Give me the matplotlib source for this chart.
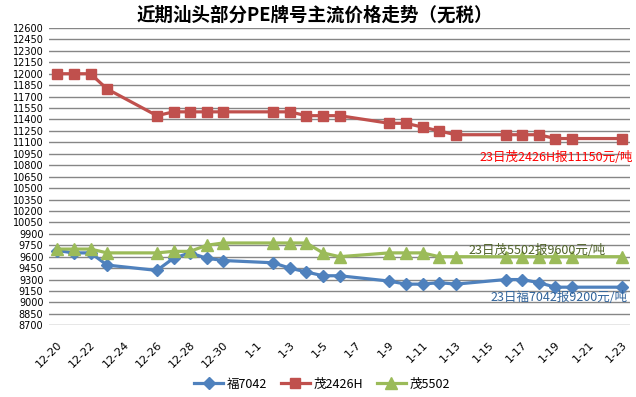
import matplotlib
matplotlib.use("Agg")
import matplotlib.pyplot as plt
import matplotlib.dates as mdates
from matplotlib.ticker import FuncFormatter
import numpy as np
import pandas as pd

# ---------------- data ----------------
dates = ["2012-12-20", "2012-12-21", "2012-12-22", "2012-12-23", "2012-12-26",
         "2012-12-27", "2012-12-28", "2012-12-29", "2012-12-30",
         "2013-01-02", "2013-01-03", "2013-01-04", "2013-01-05", "2013-01-06",
         "2013-01-09", "2013-01-10", "2013-01-11", "2013-01-12", "2013-01-13",
         "2013-01-16", "2013-01-17", "2013-01-18", "2013-01-19", "2013-01-20",
         "2013-01-23"]
fu7042 = [9680, 9650, 9650, 9490, 9420, 9580, 9650, 9580, 9550,
          9520, 9450, 9400, 9350, 9350,
          9280, 9240, 9240, 9260, 9240,
          9300, 9300, 9260, 9200, 9200,
          9200]
mao2426h = [12000, 12000, 12000, 11800, 11450, 11500, 11500, 11500, 11500,
            11500, 11500, 11450, 11450, 11450,
            11350, 11350, 11300, 11250, 11200,
            11200, 11200, 11200, 11150, 11150,
            11150]
mao5502 = [9700, 9700, 9700, 9650, 9650, 9670, 9670, 9750, 9780,
           9780, 9780, 9780, 9650, 9600,
           9650, 9650, 9650, 9600, 9600,
           9600, 9600, 9600, 9600, 9600,
           9600]
series_names = ["福7042", "茂2426H", "茂5502"]
title = "近期汕头部分PE牌号主流价格走势（无税）"
notes = ["23日福7042报9200元/吨", "23日茂2426H报11150元/吨", "23日茂5502报9600元/吨"]
y_min, y_max, y_step = 8700, 12600, 150

# ---------------- figure ----------------
plt.rcParams["font.family"] = ["DejaVu Sans", "Noto Sans CJK SC"]
CJK = ["Noto Sans CJK SC", "DejaVu Sans"]

W, H = 636, 397
fig = plt.figure(figsize=(W / 100, H / 100), dpi=100)
fig.patch.set_facecolor("white")
ax = fig.add_axes([49 / W, 1 - 325.3 / H, 581 / W, (325.3 - 28) / H])

x = pd.to_datetime(dates)
colors = ["#4F81BD", "#C0504D", "#9BBB59"]
markers = ["D", "s", "^"]
msizes = [6.5, 7.5, 8]
series = [fu7042, mao2426h, mao5502]
for vals, c, m, ms, name in zip(series, colors, markers, msizes, series_names):
    ax.plot(x, vals, color=c, lw=2.3, marker=m, markersize=ms,
            markeredgecolor=c, markerfacecolor=c, label=name)

ax.set_ylim(y_min, y_max)
ax.set_yticks(np.arange(y_min, y_max + 1, y_step))
ax.set_xlim(x[0] - pd.Timedelta(hours=12), x[-1] + pd.Timedelta(hours=12))
ax.set_xticks(pd.date_range(x[0], x[-1], freq="2D"))


def fmt(v, p):
    d = mdates.num2date(v)
    return f"{d.month}-{d.day}"


ax.xaxis.set_major_formatter(FuncFormatter(fmt))
ax.tick_params(axis="y", length=0, pad=4, labelsize=7)
ax.tick_params(axis="x", length=0, pad=10, labelsize=8)
plt.setp(ax.get_xticklabels(), rotation=45, ha="right", rotation_mode="anchor")

ax.yaxis.grid(True, color="#868686", lw=1)
ax.set_axisbelow(True)
for s in ax.spines.values():
    s.set_visible(False)

# title
fig.text(315 / W, 1 - 15 / H, title, ha="center", va="center",
         fontsize=13.3, fontweight="bold", family=CJK)

# notes near last points
note_colors = ["#31649B", "#FF0000", "#4F6228"]
offsets = [(6, -10), (11, -19), (-16, 6)]
for vals, txt, c, off in zip(series, notes, note_colors, offsets):
    ax.annotate(txt, xy=(x[-1], vals[-1]), xytext=off, textcoords="offset pixels",
                ha="right", va="center", fontsize=9, color=c, family=CJK,
                annotation_clip=False)

leg = fig.legend(loc="center", bbox_to_anchor=(322 / W, 1 - 384 / H), ncol=3,
                 frameon=False, handlelength=2.3, columnspacing=1.1,
                 handletextpad=0.3, prop={"family": CJK, "size": 9})

fig.savefig("out.png", dpi=100)
